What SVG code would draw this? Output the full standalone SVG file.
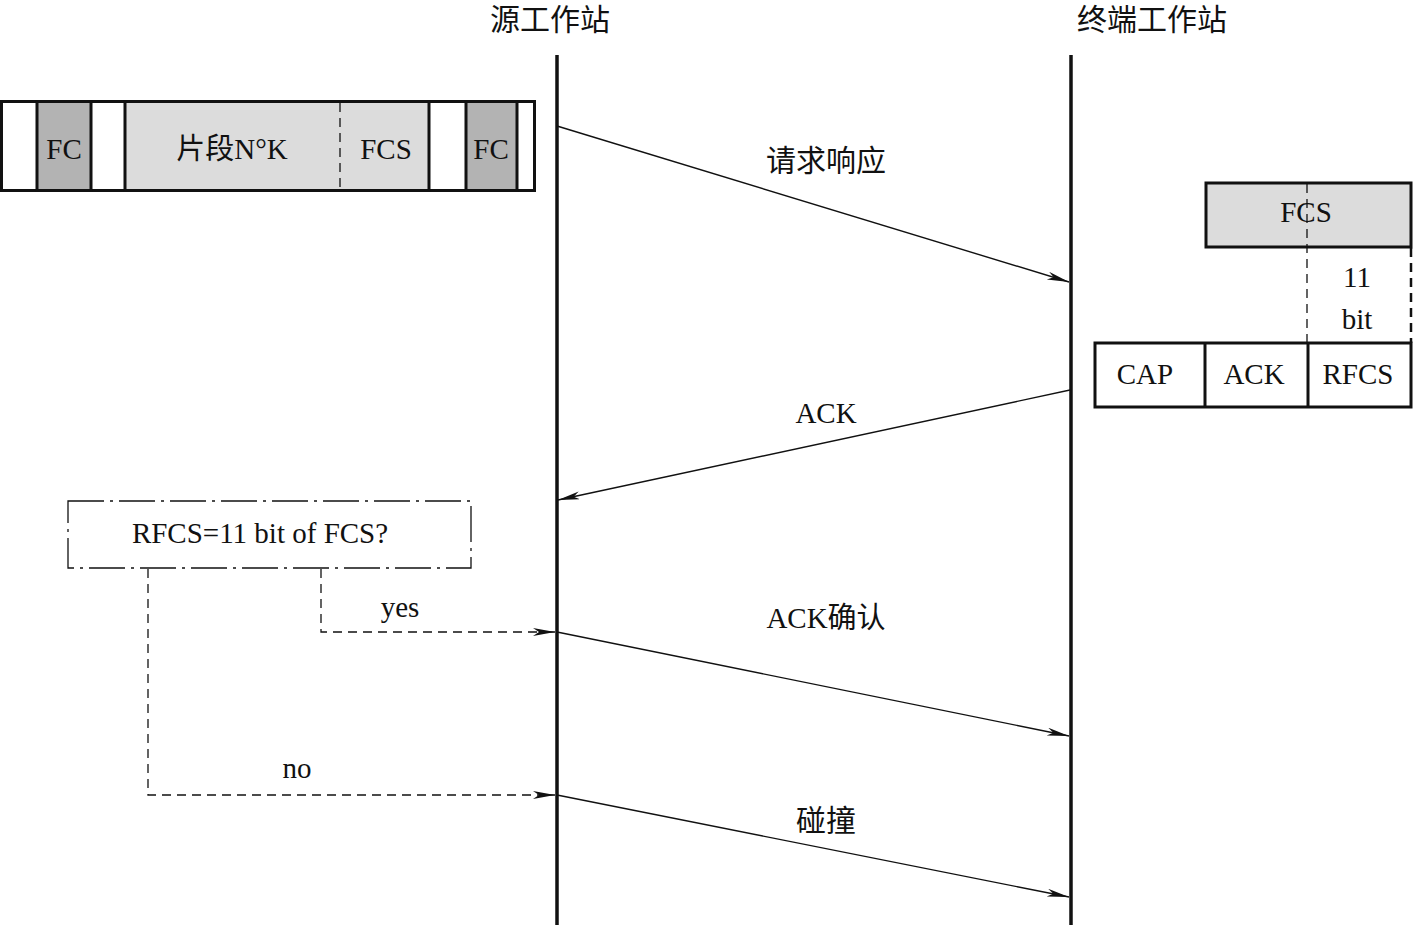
<svg xmlns="http://www.w3.org/2000/svg" width="1413" height="927" viewBox="0 0 1413 927">
<style>
text{font-family:"Liberation Serif","Noto Sans CJK SC",serif;font-size:29px;fill:#111;text-anchor:middle;dominant-baseline:central}
.t{font-size:30px}
.box{stroke:#111;stroke-width:3}
.thin{stroke:#111;stroke-width:1.5;fill:none}
.dash{stroke:#111;stroke-width:1.3;fill:none;stroke-dasharray:9,6}
.life{stroke:#111;stroke-width:3.5}
.msg{stroke:#111;stroke-width:1.4;fill:none;marker-end:url(#ah)}
</style>
<defs>
<marker id="ah" markerWidth="24" markerHeight="10" refX="22" refY="4" orient="auto" markerUnits="userSpaceOnUse">
<path d="M0,0 L22,4 L0,8 L6,4 Z" fill="#111"/>
</marker>
</defs>
<rect width="1413" height="927" fill="#fff"/>
<g id="src-station">
<text class="t" x="550" y="19">源工作站</text>
</g>
<g id="dst-station">
<text class="t" x="1152" y="19">终端工作站</text>
</g>
<g id="lifelines">
<line class="life" x1="557" y1="55" x2="557" y2="925"/>
<line class="life" x1="1071" y1="55" x2="1071" y2="925"/>
</g>
<g id="frame">
<rect x="1.5" y="101.5" width="533" height="89" fill="#fff" class="box"/>
<rect x="37" y="101.5" width="54" height="89" fill="#b3b3b3" class="box"/>
<rect x="125" y="101.5" width="304" height="89" fill="#dcdcdc" class="box"/>
<rect x="466" y="101.5" width="51" height="89" fill="#b3b3b3" class="box"/>
<line x1="340" y1="103" x2="340" y2="189" class="dash"/>
<text x="64" y="149">FC</text>
<text x="232" y="149">片段N°K</text>
<text x="386" y="149">FCS</text>
<text x="491" y="149">FC</text>
</g>
<g id="fcs-box">
<rect x="1206" y="183" width="205" height="64" fill="#dcdcdc" class="box"/>
<text x="1306" y="212">FCS</text>
<line x1="1307" y1="184" x2="1307" y2="343" class="dash"/>
<line x1="1411" y1="248" x2="1411" y2="343" class="dash" style="stroke-width:2.5"/>
<text x="1357" y="277">11</text>
<text x="1357" y="319">bit</text>
</g>
<g id="ack-frame">
<rect x="1095" y="343" width="316" height="64" fill="#fff" class="box"/>
<line x1="1205" y1="343" x2="1205" y2="407" class="box"/>
<line x1="1308" y1="343" x2="1308" y2="407" class="box"/>
<text x="1145" y="374">CAP</text>
<text x="1254" y="374">ACK</text>
<text x="1358" y="374">RFCS</text>
</g>
<g id="decision">
<rect x="68" y="501" width="403" height="67" fill="#fff" stroke="#111" stroke-width="1.3" stroke-dasharray="36,6,3,6"/>
<text x="260" y="533">RFCS=11 bit of FCS?</text>
</g>
<g id="connectors">
<line class="msg" x1="557" y1="126" x2="1069" y2="282"/>
<line class="msg" x1="1070" y1="390" x2="558" y2="500"/>
<line class="msg" x1="557" y1="632" x2="1069" y2="736"/>
<line class="msg" x1="557" y1="795" x2="1069" y2="897"/>
<path class="dash" d="M321,569 V632 H545"/>
<path d="M545,632 H555" class="thin" marker-end="url(#ah)"/>
<path class="dash" d="M148,569 V795 H545"/>
<path d="M545,795 H555" class="thin" marker-end="url(#ah)"/>
<text class="t" x="826" y="160">请求响应</text>
<text x="826" y="413">ACK</text>
<text x="826" y="618">ACK确认</text>
<text class="t" x="826" y="820">碰撞</text>
<text x="400" y="607">yes</text>
<text x="297" y="768">no</text>
</g>
</svg>
